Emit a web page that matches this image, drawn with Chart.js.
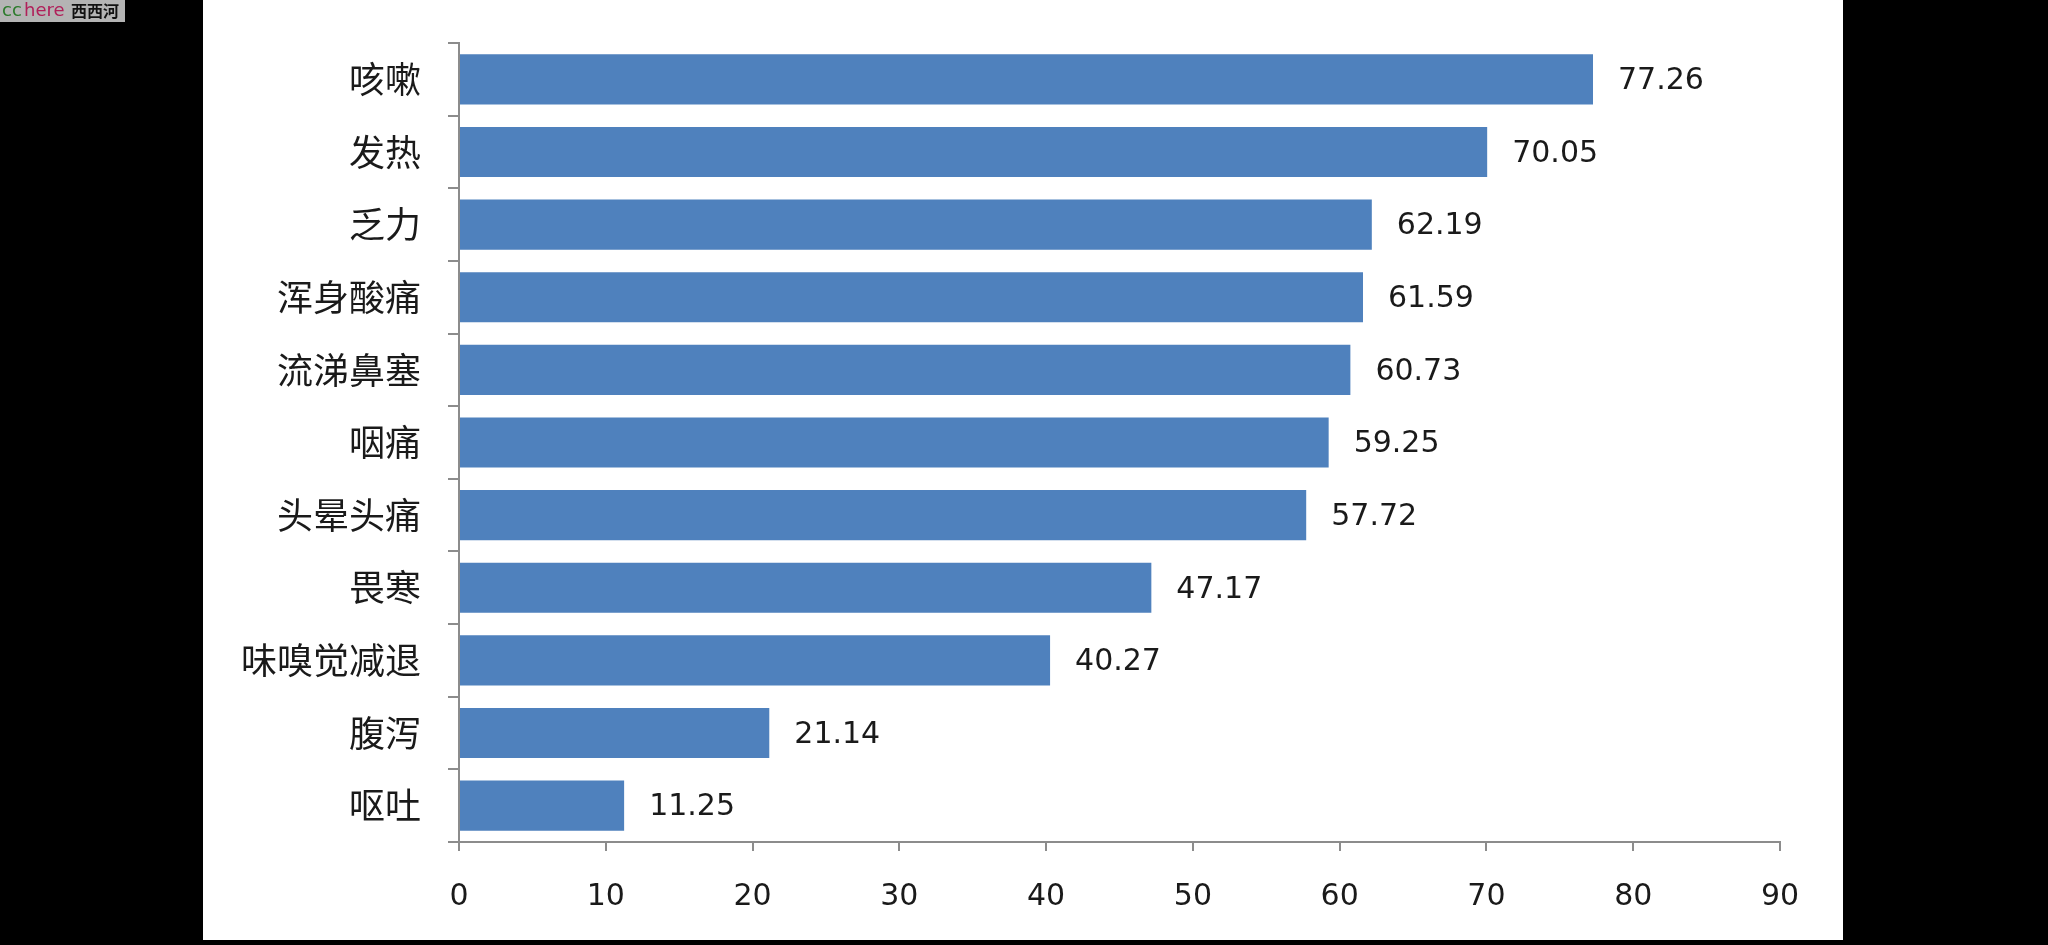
<!DOCTYPE html>
<html>
<head>
<meta charset="utf-8">
<script src="https://cdn.jsdelivr.net/npm/chart.js@4/dist/chart.umd.min.js"></script>
<style>
html,body{margin:0;padding:0;background:#000;}
#wrap{position:relative;width:2048px;height:945px;}
</style>
</head>
<body>
<div id="wrap"><canvas id="c" width="2048" height="945"></canvas></div>
<script>
const categories = ['咳嗽','发热','乏力','浑身酸痛','流涕鼻塞','咽痛','头晕头痛','畏寒','味嗅觉减退','腹泻','呕吐'];
const rates = [77.26, 70.05, 62.19, 61.59, 60.73, 59.25, 57.72, 47.17, 40.27, 21.14, 11.25];
const xTicks = [0,10,20,30,40,50,60,70,80,90];

const bgPlugin = {
  id: 'bg',
  beforeDraw(chart) {
    const ctx = chart.ctx;
    ctx.save();
    ctx.fillStyle = '#000';
    ctx.fillRect(0, 0, 2048, 945);
    ctx.fillStyle = '#fff';
    ctx.fillRect(203, 0, 1640, 940);
    // logo
    ctx.fillStyle = '#b4b4b4';
    ctx.fillRect(0, 0, 125, 22);
    ctx.textBaseline = 'middle';
    ctx.textAlign = 'left';
    ctx.font = '18px "DejaVu Sans"';
    ctx.fillStyle = '#2a7a2a';
    ctx.fillText('cc', 2, 11);
    ctx.fillStyle = '#b0205a';
    ctx.fillText('here', 24, 11);
    ctx.fillStyle = '#111';
    ctx.font = 'bold 16px "Noto Sans CJK SC"';
    ctx.fillText('西西河', 71, 11);
    ctx.restore();
  }
};

const labelPlugin = {
  id: 'vals',
  afterDatasetsDraw(chart) {
    const ctx = chart.ctx;
    const meta = chart.getDatasetMeta(0);
    ctx.save();
    ctx.font = '30px "DejaVu Sans"';
    ctx.fillStyle = '#1a1a1a';
    ctx.textAlign = 'left';
    ctx.textBaseline = 'middle';
    meta.data.forEach((bar, i) => {
      ctx.fillText(rates[i].toFixed(2), bar.x + 25, bar.y + 2);
    });
    ctx.restore();
  }
};

new Chart(document.getElementById('c'), {
  type: 'bar',
  data: {
    labels: categories,
    datasets: [{
      data: rates,
      backgroundColor: '#4F81BD',
      borderWidth: 0,
      barPercentage: 0.69,
      categoryPercentage: 1
    }]
  },
  options: {
    indexAxis: 'y',
    responsive: false,
    animation: false,
    devicePixelRatio: 1,
    layout: { padding: { left: 203, top: 43, right: 268, bottom: 0 } },
    plugins: { legend: { display: false }, tooltip: { enabled: false } },
    scales: {
      x: {
        min: 0, max: 90,
        afterBuildTicks(axis) { axis.ticks = xTicks.map(v => ({ value: v })); },
        afterFit(axis) { axis.height = 103; },
        grid: { drawOnChartArea: false, drawTicks: true, tickLength: 9, color: '#8c8c8c', lineWidth: 2 },
        border: { display: true, color: '#8c8c8c', width: 2 },
        ticks: { font: { family: 'DejaVu Sans', size: 30 }, color: '#1a1a1a', padding: 28, maxRotation: 0 }
      },
      y: {
        afterFit(axis) { axis.width = 256; axis.paddingTop = 0; axis.paddingBottom = 0; },
        grid: { drawOnChartArea: false, drawTicks: true, tickLength: 11, color: '#8c8c8c', lineWidth: 2, offset: true },
        border: { display: true, color: '#8c8c8c', width: 2 },
        ticks: { font: { family: 'Noto Sans CJK SC', size: 36 }, color: '#1a1a1a', padding: 27 }
      }
    }
  },
  plugins: [bgPlugin, labelPlugin]
});
</script>
</body>
</html>
